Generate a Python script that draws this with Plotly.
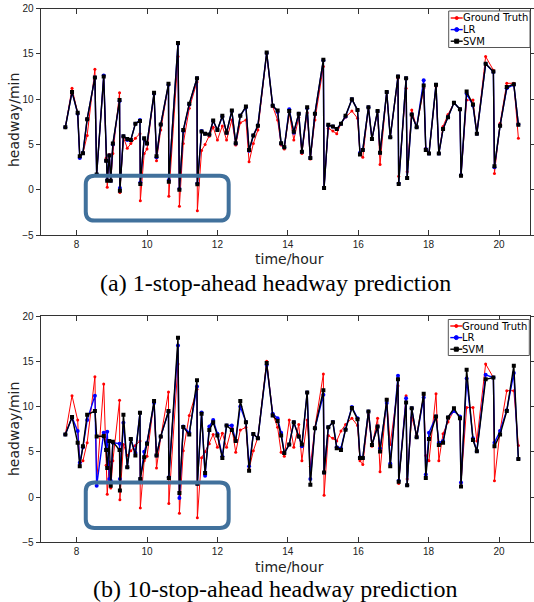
import plotly.graph_objects as go

W, H = 534, 602

hours = [7.68, 7.87, 8.03, 8.09, 8.18, 8.30, 8.52, 8.57, 8.77, 8.84, 8.87, 8.93, 8.97, 9.03, 9.22, 9.23,
         9.33, 9.44, 9.54, 9.67, 9.80, 9.81, 9.92, 10.00, 10.20, 10.27, 10.39, 10.61, 10.62, 10.88, 10.92,
         11.03, 11.20, 11.42, 11.43, 11.55, 11.65, 11.77, 11.88, 12.00, 12.14, 12.26, 12.41, 12.52, 12.65,
         12.81, 12.90, 13.02, 13.15, 13.40, 13.57, 13.71, 13.81, 13.90, 14.04, 14.17, 14.31, 14.40, 14.55,
         14.64, 14.77, 15.01, 15.03, 15.15, 15.28, 15.39, 15.51, 15.64, 15.82, 15.98, 16.05, 16.13, 16.29,
         16.39, 16.55, 16.62, 16.81, 16.91, 17.13, 17.15, 17.36, 17.39, 17.52, 17.66, 17.86, 17.92, 18.01,
         18.21, 18.29, 18.41, 18.55, 18.72, 18.89, 18.92, 19.08, 19.26, 19.37, 19.62, 19.84, 19.87, 20.03,
         20.22, 20.42, 20.55]

ground_truth = [6.9, 11.2, 8.5, 3.6, 4.0, 6.0, 13.3, 1.7, 12.5, 3.5, 0.3, 3.9, 1.0, 4.0, 10.7, -0.3,
                5.8, 4.6, 5.1, 5.7, 6.2, -1.2, 4.0, 4.5, 10.6, 3.2, 6.6, 11.6, -0.7, 14.7, -1.8,
                5.1, 9.0, 11.9, -2.3, 4.35, 5.0, 5.9, 6.9, 5.5, 7.05, 5.5, 7.7, 4.95, 7.4,
                7.7, 3.1, 5.1, 6.6, 15.0, 9.2, 7.7, 4.95, 4.5, 8.5, 5.5, 8.0, 4.0, 8.5,
                3.4, 7.7, 13.6, 0.2, 6.8, 6.5, 6.2, 7.3, 8.0, 8.7, 7.9, 4.0, 3.6, 9.1,
                5.6, 8.7, 2.8, 10.8, 5.8, 12.3, 1.5, 11.2, 2.0, 8.8, 6.9, 11.2, 4.6, 4.0,
                11.4, 4.0, 7.0, 8.3, 9.6, 8.9, 1.55, 9.9, 9.9, 6.2, 14.7, 13.2, 1.8, 7.35,
                11.75, 11.75, 5.7]

lr_1stop = [6.9, 10.8, 8.4, 3.5, 4.1, 7.8, 12.4, 1.7, 12.6, 3.2, 1.1, 3.8, 1.0, 5.0, 9.8, 0.2,
            5.9, 5.5, 5.5, 7.3, 7.7, 0.8, 5.6, 5.1, 10.6, 3.6, 7.2, 11.6, 1.1, 16.1, 0.1,
            6.5, 9.4, 12.3, 0.7, 6.5, 6.2, 6.1, 7.6, 6.6, 8.1, 6.3, 8.7, 5.1, 8.2,
            9.1, 4.3, 6.0, 7.1, 15.1, 9.3, 8.6, 5.1, 4.7, 8.9, 6.3, 8.4, 4.2, 9.0,
            3.5, 8.4, 14.3, 0.2, 7.1, 7.0, 6.7, 7.3, 8.1, 10.0, 8.8, 4.1, 4.4, 9.1,
            5.6, 8.7, 4.1, 10.8, 5.8, 12.5, 0.7, 12.3, 1.3, 8.3, 6.9, 12.1, 4.5, 4.0,
            11.6, 4.0, 6.7, 8.0, 9.6, 8.9, 1.6, 10.6, 9.3, 6.2, 13.9, 13.0, 2.5, 7.1,
            11.2, 11.6, 7.2]

svm_1stop = [6.9, 10.8, 8.5, 3.7, 4.05, 7.8, 12.4, 1.7, 12.5, 3.2, 1.0, 3.8, 1.0, 5.1, 9.9, -0.1,
             5.9, 5.6, 5.5, 7.3, 7.6, 0.66, 5.7, 5.1, 10.7, 3.7, 7.2, 11.7, 0.9, 16.2, 0.0,
             6.6, 9.5, 12.3, 0.63, 6.44, 6.2, 6.1, 7.65, 6.6, 8.17, 6.3, 8.75, 5.15, 8.17,
             9.2, 4.4, 6.0, 7.06, 15.15, 9.27, 8.75, 5.15, 4.7, 8.7, 6.4, 8.4, 4.2, 9.1,
             3.5, 8.4, 14.35, 0.2, 7.17, 7.0, 6.7, 7.3, 8.17, 10.0, 8.8, 3.9, 4.4, 9.1,
             5.6, 8.7, 4.1, 10.8, 5.8, 12.5, 0.66, 12.3, 1.3, 8.3, 6.9, 11.5, 4.4, 4.0,
             11.6, 4.0, 6.7, 8.0, 9.6, 8.9, 1.55, 10.85, 9.4, 6.2, 13.9, 13.06, 2.6, 7.06,
             11.33, 11.66, 7.17]

lr_10stop = [6.9, 8.8, 7.3, 3.8, 5.5, 8.5, 11.2, 1.25, 7.1, 5.3, 7.2, 2.0, 1.8, 6.0, 5.9, 2.0,
             8.2, 3.3, 6.4, 4.9, 9.3, 2.0, 5.0, 6.0, 10.4, 4.6, 6.7, 9.4, 2.2, 16.75, -0.1,
             7.8, 7.1, 12.2, 1.47, 9.35, 2.35, 7.8, 8.5, 7.0, 4.5, 7.9, 7.9, 6.2, 10.0,
             8.3, 3.4, 6.96, 6.5, 14.6, 9.2, 8.7, 7.1, 4.86, 5.8, 8.25, 6.7, 5.6, 11.56,
             2.0, 7.6, 11.3, 2.7, 7.7, 8.3, 5.5, 5.4, 7.5, 9.95, 8.7, 4.4, 4.3, 9.46,
             5.75, 7.8, 5.4, 10.4, 3.7, 13.4, 1.8, 10.9, 1.3, 9.8, 6.6, 11.0, 2.5, 7.1,
             8.9, 6.0, 6.2, 8.8, 9.5, 8.9, 1.6, 13.1, 6.5, 5.07, 13.5, 13.2, 6.0, 7.3,
             9.6, 13.7, 4.2]

svm_10stop = [6.9, 8.84, 6.0, 3.4, 5.6, 9.1, 9.5, 6.7, 6.75, 5.2, 3.2, 6.2, 1.25, 6.1, 5.2, 0.73,
              9.1, 3.3, 6.4, 4.6, 9.3, 2.0, 4.4, 5.9, 10.6, 4.6, 6.7, 9.5, 2.1, 17.6, 0.44,
              7.73, 6.9, 12.9, 1.47, 9.2, 2.65, 7.4, 8.25, 6.8, 4.3, 7.9, 7.4, 6.2, 10.6,
              8.25, 2.9, 6.96, 6.5, 14.8, 9.0, 8.4, 6.8, 4.86, 5.8, 8.25, 6.7, 5.8, 11.56,
              1.36, 7.6, 11.8, 2.7, 7.7, 8.25, 5.4, 5.2, 7.44, 9.85, 8.6, 4.3, 4.3, 9.46,
              5.75, 7.8, 5.04, 10.75, 3.4, 13.0, 1.7, 10.45, 1.3, 9.8, 6.6, 11.4, 2.1, 6.4,
              8.9, 5.75, 6.0, 8.8, 9.8, 8.7, 1.17, 14.07, 6.3, 5.07, 13.0, 13.2, 5.6, 6.9,
              9.5, 14.5, 4.2]

for arr in (ground_truth, lr_1stop, svm_1stop, lr_10stop, svm_10stop):
    assert len(arr) == len(hours), (len(arr), len(hours))

x_ticks = [8, 10, 12, 14, 16, 18, 20]
y_ticks = [-5, 0, 5, 10, 15, 20]
series_names = ["Ground Truth", "LR", "SVM"]
captions = ["(a) 1-stop-ahead headway prediction", "(b) 10-stop-ahead headway prediction"]

RED, BLUE, BLACK = "#ff0000", "#0000ff", "#000000"
BOXBLUE = "#41719c"
SANS = "Liberation Sans"
WIDE = "DejaVu Sans"


def px(x):
    return x / W


def py(y):
    return 1 - y / H


fig = go.Figure()

panels = [
    dict(xa="x", ya="y", lr=lr_1stop, svm=svm_1stop),
    dict(xa="x2", ya="y2", lr=lr_10stop, svm=svm_10stop),
]
for p in panels:
    fig.add_trace(go.Scatter(x=hours, y=ground_truth, mode="lines+markers", xaxis=p["xa"], yaxis=p["ya"],
                             line=dict(color=RED, width=1), marker=dict(color=RED, size=3, symbol="circle"),
                             showlegend=False))
    fig.add_trace(go.Scatter(x=hours, y=p["lr"], mode="lines+markers", xaxis=p["xa"], yaxis=p["ya"],
                             line=dict(color=BLUE, width=1.4), marker=dict(color=BLUE, size=4, symbol="circle"),
                             showlegend=False))
    fig.add_trace(go.Scatter(x=hours, y=p["svm"], mode="lines+markers", xaxis=p["xa"], yaxis=p["ya"],
                             line=dict(color=BLACK, width=1.4), marker=dict(color=BLACK, size=4, symbol="square"),
                             showlegend=False))

xdom = [px(40.7), px(530)]
top_dom = [py(235.2), py(8.5)]
bot_dom = [py(542.3), py(316)]

axis_common = dict(showgrid=False, zeroline=False, showline=True, linecolor="#333333", linewidth=1,
                   mirror="ticks", tickfont=dict(family=SANS, size=10, color="#222222"), tickcolor="#333333",
                   automargin=False)

fig.update_layout(
    width=W, height=H, margin=dict(l=0, r=0, t=0, b=0),
    paper_bgcolor="white", plot_bgcolor="white", showlegend=False,
    xaxis=dict(domain=xdom, range=[6.98, 20.88], tickvals=x_ticks, ticks="inside", ticklen=5, anchor="y",
               **axis_common),
    yaxis=dict(domain=top_dom, range=[-5, 20], tickvals=y_ticks, ticks="outside", ticklen=4, anchor="x",
               **axis_common),
    xaxis2=dict(domain=xdom, range=[6.98, 20.88], tickvals=x_ticks, ticks="inside", ticklen=5, anchor="y2",
                **axis_common),
    yaxis2=dict(domain=bot_dom, range=[-5, 20], tickvals=y_ticks, ticks="outside", ticklen=4, anchor="x2",
                **axis_common),
)

shapes = []
annotations = []


def rounded_box(xref, yref, x0, x1, y0, y1, rx, ry):
    path = (f"M {x0 + rx},{y1} L {x1 - rx},{y1} Q {x1},{y1} {x1},{y1 - ry} "
            f"L {x1},{y0 + ry} Q {x1},{y0} {x1 - rx},{y0} L {x0 + rx},{y0} "
            f"Q {x0},{y0} {x0},{y0 + ry} L {x0},{y1 - ry} Q {x0},{y1} {x0 + rx},{y1} Z")
    return dict(type="path", xref=xref, yref=yref, path=path, line=dict(color=BOXBLUE, width=4),
                fillcolor="rgba(0,0,0,0)", layer="above")


shapes.append(rounded_box("x", "y", 8.26, 12.32, -3.39, 1.55, 0.25, 0.97))
shapes.append(rounded_box("x2", "y2", 8.26, 12.32, -3.43, 1.61, 0.25, 0.97))

# legends (drawn manually to match the compact MATLAB legend)
legend_boxes = [(448.7, 530.0, 11.0, 47.5, [18.0, 29.6, 41.2]),
                (448.3, 529.3, 319.5, 355.5, [326.0, 337.6, 349.2])]
styles = [(RED, "circle", 3), (BLUE, "circle", 4), (BLACK, "square", 4)]
for (bx0, bx1, by0, by1, rows) in legend_boxes:
    shapes.append(dict(type="rect", xref="paper", yref="paper", x0=px(bx0), x1=px(bx1), y0=py(by1), y1=py(by0),
                       line=dict(color="#555555", width=1), fillcolor="white", layer="above"))
    for (name, (col, sym, sz), ry) in zip(series_names, styles, rows):
        shapes.append(dict(type="line", xref="paper", yref="paper", x0=px(bx0 + 2), x1=px(bx0 + 14),
                           y0=py(ry), y1=py(ry), line=dict(color=col, width=1.4), layer="above"))
        cx = bx0 + 8
        h = sz / 2
        shapes.append(dict(type="circle" if sym == "circle" else "rect", xref="paper", yref="paper",
                           x0=px(cx - h), x1=px(cx + h), y0=py(ry + h), y1=py(ry - h),
                           line=dict(color=col, width=1), fillcolor=col, layer="above"))
        annotations.append(dict(xref="paper", yref="paper", x=px(bx0 + 13), y=py(ry), text=name,
                                showarrow=False, xanchor="left", yanchor="middle", borderpad=0,
                                font=dict(family=WIDE, size=10, color="black")))

for (ycen, xt_y, cap_y, cap) in [(120, 259, 283, captions[0]), (429, 567, 589, captions[1])]:
    annotations.append(dict(xref="paper", yref="paper", x=px(14), y=py(ycen), text="headway/min",
                            textangle=-90, showarrow=False, xanchor="center", yanchor="middle",
                            font=dict(family=WIDE, size=14, color="#222222")))
    annotations.append(dict(xref="paper", yref="paper", x=px(289), y=py(xt_y), text="time/hour",
                            showarrow=False, xanchor="center", yanchor="middle",
                            font=dict(family=WIDE, size=14, color="#222222")))
    annotations.append(dict(xref="paper", yref="paper", x=px(275), y=py(cap_y), text=cap,
                            showarrow=False, xanchor="center", yanchor="middle",
                            font=dict(family="Liberation Serif", size=24, color="black")))

fig.update_layout(shapes=shapes, annotations=annotations)
fig.write_html("out.html", config={"displayModeBar": False},
               post_script="document.body.style.margin='0px';document.body.style.overflow='hidden';")
